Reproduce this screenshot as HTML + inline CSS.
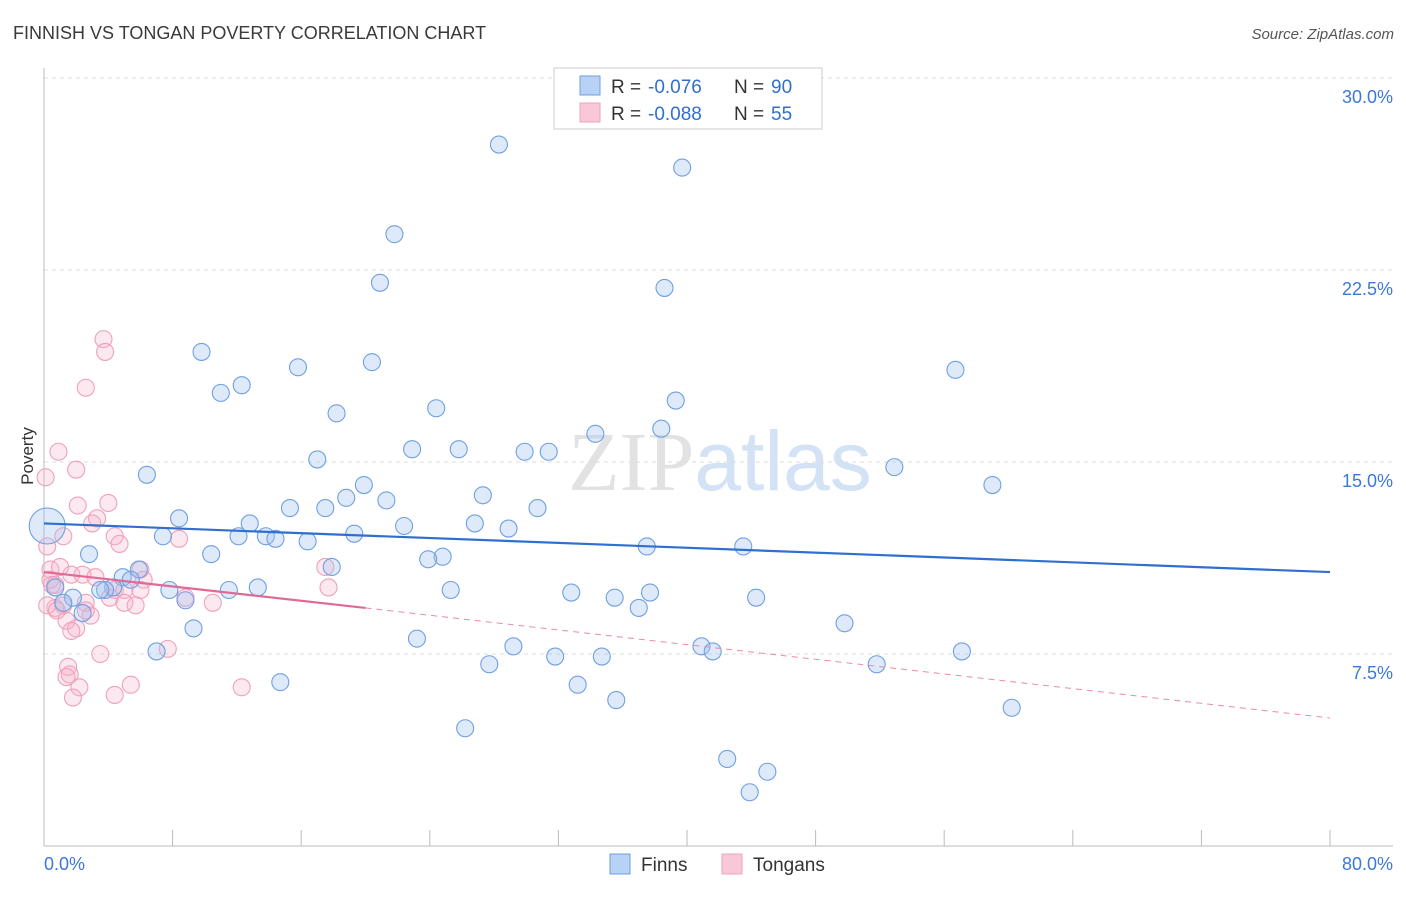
<!DOCTYPE html>
<html><head><meta charset="utf-8"><style>
body{margin:0;background:#fff;font-family:"Liberation Sans",sans-serif}
svg text{font-family:"Liberation Sans",sans-serif}
</style></head><body>
<svg id="chart" width="1406" height="892" xmlns="http://www.w3.org/2000/svg">
<text x="13" y="39" font-size="18" fill="#3a3a3a">FINNISH VS TONGAN POVERTY CORRELATION CHART</text>
<text x="1394" y="39" font-size="15" fill="#555" text-anchor="end" font-style="italic">Source: ZipAtlas.com</text>
<text x="720" y="490" font-size="84" text-anchor="middle"><tspan fill="#e2e2e2" font-family="Liberation Serif">ZIP</tspan><tspan fill="#d3e2f5">atlas</tspan></text>
<text transform="translate(33,456) rotate(-90)" font-size="17" fill="#333" text-anchor="middle">Poverty</text>
<g id="axes"></g>
<g id="marks"></g>
<g>
<rect x="554" y="68" width="268" height="61" fill="#fff" stroke="#ccc"/>
<rect x="580" y="76" width="20" height="19" fill="#b7d2f5" stroke="#6fa0e0"/>
<text x="611" y="93" font-size="19" fill="#333">R =</text>
<text x="648" y="93" font-size="19" fill="#2f6fd0">-0.076</text>
<text x="734" y="93" font-size="19" fill="#333">N =</text>
<text x="771" y="93" font-size="19" fill="#2f6fd0">90</text>
<rect x="580" y="103" width="20" height="19" fill="#f9c8d8" stroke="#f0a0bc"/>
<text x="611" y="120" font-size="19" fill="#333">R =</text>
<text x="648" y="120" font-size="19" fill="#2f6fd0">-0.088</text>
<text x="734" y="120" font-size="19" fill="#333">N =</text>
<text x="771" y="120" font-size="19" fill="#2f6fd0">55</text>
</g>
<g>
<rect x="610" y="854" width="20" height="20" fill="#b7d2f5" stroke="#6fa0e0"/>
<text x="641" y="871" font-size="19" fill="#333">Finns</text>
<rect x="722" y="854" width="20" height="20" fill="#f9c8d8" stroke="#f0a0bc"/>
<text x="753" y="871" font-size="19" fill="#333">Tongans</text>
</g>
</svg>
<script>
const yTicks=[7.5,15,22.5,30];
const yTickLabels=["7.5%","15.0%","22.5%","30.0%"];
const xTickCount=10;
const finnsX=[28.3,39.7,21.8,20.9,38.6,9.8,20.4,15.8,56.7,12.3,11.0,39.3,24.4,18.2,38.4,34.3,22.9,25.8,29.9,31.4,17.0,52.9,6.4,59.0,19.9,18.8,27.3,21.3,30.7,15.3,17.5,8.4,26.8,12.8,22.4,28.9,19.3,7.4,12.1,13.8,14.4,16.4,37.5,43.5,2.8,10.4,24.8,23.9,17.9,5.9,4.9,5.4,0.7,4.3,3.8,3.5,11.5,13.3,7.8,25.3,32.8,37.7,8.8,1.8,35.5,44.3,37.0,1.2,2.4,9.3,23.2,49.8,29.2,40.9,41.6,7.0,31.8,34.7,57.1,27.7,51.8,14.7,33.2,35.6,60.2,26.2,42.5,45.0,43.9];
const finnsY=[27.4,26.5,23.9,22.0,21.8,19.3,18.9,18.7,18.6,18.0,17.7,17.4,17.1,16.9,16.3,16.1,15.5,15.5,15.4,15.4,15.1,14.8,14.5,14.1,14.1,13.6,13.7,13.5,13.2,13.2,13.2,12.8,12.6,12.6,12.5,12.4,12.2,12.1,12.1,12.1,12.0,11.9,11.7,11.7,11.4,11.4,11.3,11.2,10.9,10.8,10.5,10.4,10.1,10.1,10.0,10.0,10.0,10.1,10.0,10.0,9.9,9.9,9.6,9.7,9.7,9.7,9.3,9.5,9.1,8.5,8.1,8.7,7.8,7.8,7.6,7.6,7.4,7.4,7.6,7.1,7.1,6.4,6.3,5.7,5.4,4.6,3.4,2.9,2.1];
const tongansX=[3.7,3.8,2.6,0.9,2.0,0.1,2.1,4.0,3.3,3.0,4.4,4.7,1.2,8.4,0.2,0.4,1.0,1.7,2.4,0.4,0.7,3.2,6.0,6.2,17.5,17.7,4.4,5.0,6.0,4.1,5.0,5.7,8.8,10.5,0.7,1.2,2.6,2.9,1.4,2.0,1.7,3.5,7.7,1.5,1.6,1.4,2.2,5.4,4.4,1.8,12.3,0.5,0.2,0.8,2.6];
const tongansY=[19.8,19.3,17.9,15.4,14.7,14.4,13.3,13.4,12.8,12.6,12.1,11.8,12.1,12.0,11.7,10.8,10.9,10.6,10.6,10.4,10.2,10.5,10.8,10.4,10.9,10.1,10.0,10.0,10.0,9.7,9.5,9.4,9.7,9.5,9.3,9.4,9.5,9.0,8.8,8.5,8.4,7.5,7.7,7.0,6.7,6.6,6.2,6.3,5.9,5.8,6.2,10.2,9.4,9.2,9.2];
const finnsTrend=[12.6,10.7];
const tongansTrend=[10.7,9.3,5.0];
const X0=44,X1=1330,Y0=846,YTOP=78;
const xs=v=>X0+v/80*(X1-X0);
const ys=v=>Y0-v/30*(Y0-YTOP);
const NS="http://www.w3.org/2000/svg";
function mk(tag,attrs,parent){const e=document.createElementNS(NS,tag);for(const k in attrs)e.setAttribute(k,attrs[k]);parent.appendChild(e);return e;}
const axes=document.getElementById('axes'),marks=document.getElementById('marks');
yTicks.forEach((t,i)=>{
 const g=mk('line',{x1:X0,x2:1393,y1:ys(t),y2:ys(t),stroke:'#ddd','stroke-dasharray':'4,4'},axes);
 
 
 const l=mk('text',{x:1393,y:ys(t)+25,'font-size':18,fill:'#3b78d8','text-anchor':'end'},axes);l.textContent=yTickLabels[i];
 
 
});
const ya=mk('line',{x1:X0,x2:X0,y1:68,y2:846,stroke:'#bbb'},axes);


const xa=mk('line',{x1:X0,x2:1393,y1:846,y2:846,stroke:'#bbb'},axes);


for(let i=0;i<=xTickCount;i++){const x=xs(i*80/xTickCount);
 const t=mk('line',{x1:x,x2:x,y1:830,y2:846,stroke:'#bbb'},axes);
 
 }
[["0.0%",X0,'start'],["80.0%",1393,'end']].forEach(a=>{const l=mk('text',{x:a[1],y:870,'font-size':18,fill:'#3b78d8','text-anchor':a[2]},axes);l.textContent=a[0];
 
 });
function pts(X,Y,fill,stroke,name){X.forEach((x,i)=>{const c=mk('circle',{cx:xs(x),cy:ys(Y[i]),r:8.5,fill:fill,stroke:stroke,'stroke-width':1.1},marks);
 
 });}
pts(tongansX,tongansY,'rgba(246,180,202,0.3)','#f0a0bc','tongan-point');
pts(finnsX,finnsY,'rgba(160,195,240,0.35)','#6fa0e0','finn-point');
const big=mk('circle',{cx:xs(0.2),cy:ys(12.5),r:18,fill:'rgba(160,195,240,0.35)',stroke:'#6fa0e0','stroke-width':1.1},marks);


const bt=mk('line',{x1:xs(0),y1:ys(finnsTrend[0]),x2:xs(80),y2:ys(finnsTrend[1]),stroke:'#2f6fd0','stroke-width':2.2},marks);


const pt=mk('line',{x1:xs(0),y1:ys(tongansTrend[0]),x2:xs(20),y2:ys(tongansTrend[1]),stroke:'#e06a96','stroke-width':2.2},marks);


const pd=mk('line',{x1:xs(20),y1:ys(tongansTrend[1]),x2:xs(80),y2:ys(tongansTrend[2]),stroke:'#e88aac','stroke-width':1,'stroke-dasharray':'6,5'},marks);


</script>
</body></html>
